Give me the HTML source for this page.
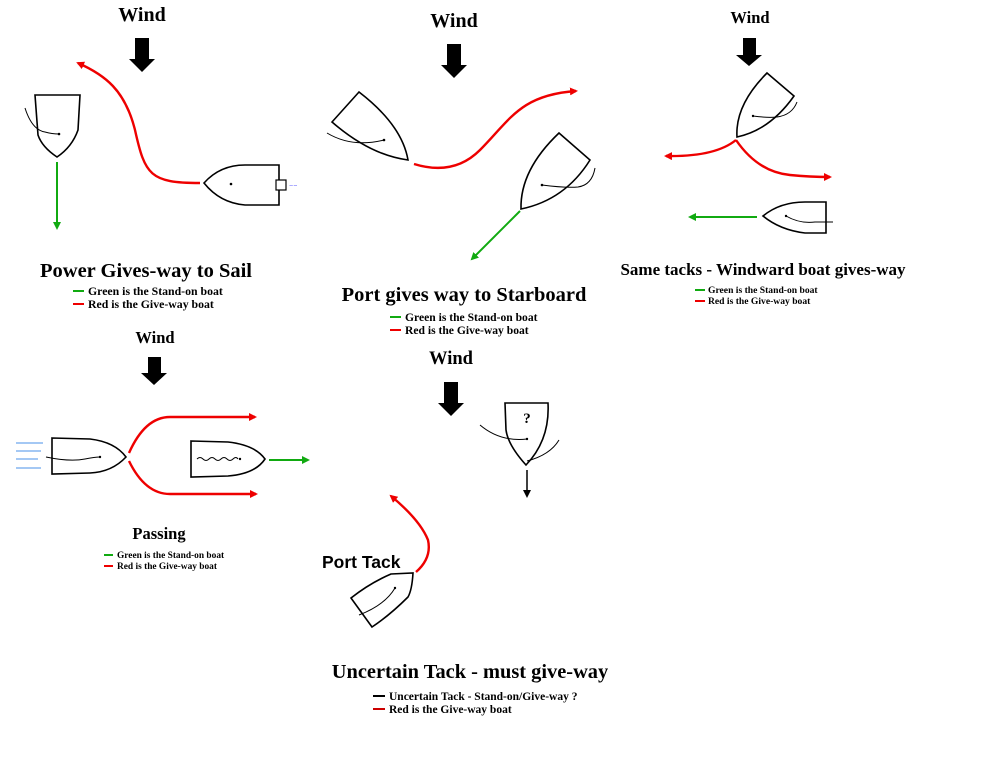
<!DOCTYPE html>
<html><head><meta charset="utf-8"><style>
html,body{margin:0;padding:0;background:#fff;}
svg{display:block;}
.t{font-family:"Liberation Serif",serif;font-weight:bold;fill:#000;}
.s{font-family:"Liberation Sans",sans-serif;font-weight:bold;fill:#000;}
.b{fill:none;stroke:#000;stroke-width:1.6;}
.th{fill:none;stroke:#000;stroke-width:1;}
.r{fill:none;stroke:#e00;stroke-width:2.4;}
.g{fill:none;stroke:#1a1;stroke-width:2;}
</style></head><body>
<svg width="996" height="757" viewBox="0 0 996 757" xmlns="http://www.w3.org/2000/svg">
<defs>
<marker id="mr" markerWidth="8" markerHeight="8" refX="6" refY="4" orient="auto" markerUnits="userSpaceOnUse"><path d="M0,0 L8,4 L0,8 z" fill="#e00"/></marker>
<marker id="mg" markerWidth="8" markerHeight="8" refX="6" refY="4" orient="auto" markerUnits="userSpaceOnUse"><path d="M0,0 L8,4 L0,8 z" fill="#1a1"/></marker>
<marker id="mk" markerWidth="8" markerHeight="8" refX="6" refY="4" orient="auto" markerUnits="userSpaceOnUse"><path d="M0,0 L8,4 L0,8 z" fill="#000"/></marker>
</defs>

<!-- Panel 1 -->
<text class="t" x="142" y="21" font-size="20" text-anchor="middle">Wind</text>
<polygon points="135,38 149,38 149,59 155,59 142,72 129,59 135,59" fill="#000"/>
<path class="r" d="M200,183 C150,183 145,175 135,130 C125,90 105,75 78,63" marker-end="url(#mr)"/>
<path class="b" d="M35,95 L80,95 L78,130 Q72,147 57,157 Q42,147 38,135 Z"/>
<path class="th" d="M25,108 Q32,130 45,132 Q52,134 59,134"/>
<circle cx="59" cy="134" r="1.3" fill="#000"/>
<path class="g" d="M57,162 L57,228" marker-end="url(#mg)"/>
<path class="b" d="M204,183 Q220,165 245,165 L279,165 L279,205 L245,205 Q220,203 204,183 Z"/>
<rect x="276" y="180" width="10" height="10" fill="#fff" stroke="#000" stroke-width="1.2"/>
<text x="289" y="187" font-size="5" fill="#33f" font-family="Liberation Sans">∽∽</text>
<circle cx="231" cy="184" r="1.3" fill="#000"/>
<text class="t" x="146" y="277" font-size="20.5" text-anchor="middle">Power Gives-way to Sail</text>
<line x1="73" y1="291" x2="84" y2="291" stroke="#1a1" stroke-width="2"/>
<text class="t" x="88" y="295" font-size="11.8">Green is the Stand-on boat</text>
<line x1="73" y1="304" x2="84" y2="304" stroke="#e00" stroke-width="2"/>
<text class="t" x="88" y="308" font-size="11.8">Red is the Give-way boat</text>

<!-- Panel 2 -->
<text class="t" x="454" y="27" font-size="20" text-anchor="middle">Wind</text>
<polygon points="447,44 461,44 461,65 467,65 454,78 441,65 447,65" fill="#000"/>
<path class="b" d="M359,92 L332,122 Q370,155 408,160 Q402,125 359,92 Z"/>
<path class="th" d="M327,133 Q352,148 384,140"/>
<circle cx="384" cy="140" r="1.3" fill="#000"/>
<path class="r" d="M414,164 C440,172 462,168 480,150 C510,120 520,95 576,91" marker-end="url(#mr)"/>
<path class="b" d="M559,133 L590,160 Q565,200 521,209 Q520,170 559,133 Z"/>
<path class="th" d="M542,185 Q565,188 578,187 Q592,185 595,168"/>
<circle cx="542" cy="185" r="1.3" fill="#000"/>
<path class="g" d="M520,211 L472,259" marker-end="url(#mg)"/>
<text class="t" x="464" y="301" font-size="20.5" text-anchor="middle">Port gives way to Starboard</text>
<line x1="390" y1="317" x2="401" y2="317" stroke="#1a1" stroke-width="2"/>
<text class="t" x="405" y="321" font-size="11.6">Green is the Stand-on boat</text>
<line x1="390" y1="330" x2="401" y2="330" stroke="#e00" stroke-width="2"/>
<text class="t" x="405" y="334" font-size="11.6">Red is the Give-way boat</text>

<!-- Panel 3 -->
<text class="t" x="750" y="23" font-size="16.5" text-anchor="middle">Wind</text>
<polygon points="743,38 756,38 756,55 762,55 749,66 736,55 743,55" fill="#000"/>
<path class="b" d="M767,73 L794,96 Q770,130 737,137 Q735,105 767,73 Z"/>
<path class="th" d="M753,116 Q768,118 777,117 Q792,115 797,102"/>
<circle cx="753" cy="116" r="1.2" fill="#000"/>
<path class="r" d="M736,140 Q715,157 666,156" marker-end="url(#mr)" stroke-width="2"/>
<path class="r" d="M736,140 Q758,172 790,175 Q810,177 830,177" marker-end="url(#mr)" stroke-width="2"/>
<path class="g" d="M757,217 L690,217" marker-end="url(#mg)"/>
<path class="b" d="M763,216 Q780,202 805,202 L826,202 L826,233 L805,233 Q780,230 763,216 Z"/>
<path class="th" d="M786,216 Q800,224 815,222 L833,222"/>
<circle cx="786" cy="216" r="1.2" fill="#000"/>
<text class="t" x="763" y="275" font-size="17" text-anchor="middle">Same tacks - Windward boat gives-way</text>
<line x1="695" y1="290" x2="705" y2="290" stroke="#1a1" stroke-width="2"/>
<text class="t" x="708" y="293" font-size="9.6">Green is the Stand-on boat</text>
<line x1="695" y1="301" x2="705" y2="301" stroke="#e00" stroke-width="2"/>
<text class="t" x="708" y="304" font-size="9.6">Red is the Give-way boat</text>

<!-- Panel 4 -->
<text class="t" x="155" y="343" font-size="16.5" text-anchor="middle">Wind</text>
<polygon points="148,357 161,357 161,373 167,373 154,385 141,373 148,373" fill="#000"/>
<g stroke="#4a90e8" stroke-width="1"><line x1="16" y1="443" x2="43" y2="443"/><line x1="16" y1="451" x2="41" y2="451"/><line x1="16" y1="459" x2="38" y2="459"/><line x1="16" y1="468" x2="41" y2="468"/></g>
<path class="b" d="M52,438 L90,439 Q115,442 126,457 Q112,472 90,473 L52,474 Z"/>
<path class="th" d="M46,457 Q70,462 85,459 Q95,457 100,457"/>
<circle cx="100" cy="457" r="1.2" fill="#000"/>
<path class="r" d="M129,453 Q145,417 170,417 L255,417" marker-end="url(#mr)" stroke-width="2"/>
<path class="r" d="M129,461 Q145,494 170,494 L256,494" marker-end="url(#mr)" stroke-width="2"/>
<path class="b" d="M191,441 L228,442 Q255,445 265,459 Q255,474 228,476 L191,477 Z"/>
<path class="th" d="M197,459 q3,-3 6,0 t6,0 t6,0 t6,0 t6,0 t6,0 t5,0"/>
<circle cx="240" cy="459" r="1.2" fill="#000"/>
<path class="g" d="M269,460 L308,460" marker-end="url(#mg)"/>
<text class="t" x="159" y="539" font-size="16.5" text-anchor="middle">Passing</text>
<line x1="104" y1="555" x2="113" y2="555" stroke="#1a1" stroke-width="2"/>
<text class="t" x="117" y="558" font-size="9.4">Green is the Stand-on boat</text>
<line x1="104" y1="566" x2="113" y2="566" stroke="#e00" stroke-width="2"/>
<text class="t" x="117" y="569" font-size="9.4">Red is the Give-way boat</text>

<!-- Panel 5 -->
<text class="t" x="451" y="364" font-size="18.5" text-anchor="middle">Wind</text>
<polygon points="444,382 458,382 458,403 464,403 451,416 438,403 444,403" fill="#000"/>
<path class="b" d="M505,403 L548,403 Q550,440 526,465 Q508,445 506,430 Z"/>
<text class="t" x="527" y="423" font-size="15" text-anchor="middle">?</text>
<path class="th" d="M480,425 Q500,442 527,439"/>
<circle cx="527" cy="439" r="1.2" fill="#000"/>
<path class="th" d="M527,461 Q550,455 559,440"/>
<path d="M527,470 L527,496" stroke="#000" stroke-width="1.5" marker-end="url(#mk)"/>
<path class="r" d="M416,572 Q432,558 428,540 Q420,520 391,496" marker-end="url(#mr)" stroke-width="2.2"/>
<text class="s" x="322" y="568" font-size="17.5">Port Tack</text>
<path class="b" d="M351,598 Q370,583 391,574 L413,573 Q412,590 408,597 Q390,615 372,627 Z"/>
<path class="th" d="M359,615 Q385,605 395,588"/>
<circle cx="395" cy="588" r="1.2" fill="#000"/>
<text class="t" x="470" y="678" font-size="20.4" text-anchor="middle">Uncertain Tack - must give-way</text>
<line x1="373" y1="696" x2="385" y2="696" stroke="#000" stroke-width="2"/>
<text class="t" x="389" y="700" font-size="11.5">Uncertain Tack - Stand-on/Give-way ?</text>
<line x1="373" y1="709" x2="385" y2="709" stroke="#c00" stroke-width="2"/>
<text class="t" x="389" y="713" font-size="11.5">Red is the Give-way boat</text>
</svg>
</body></html>
